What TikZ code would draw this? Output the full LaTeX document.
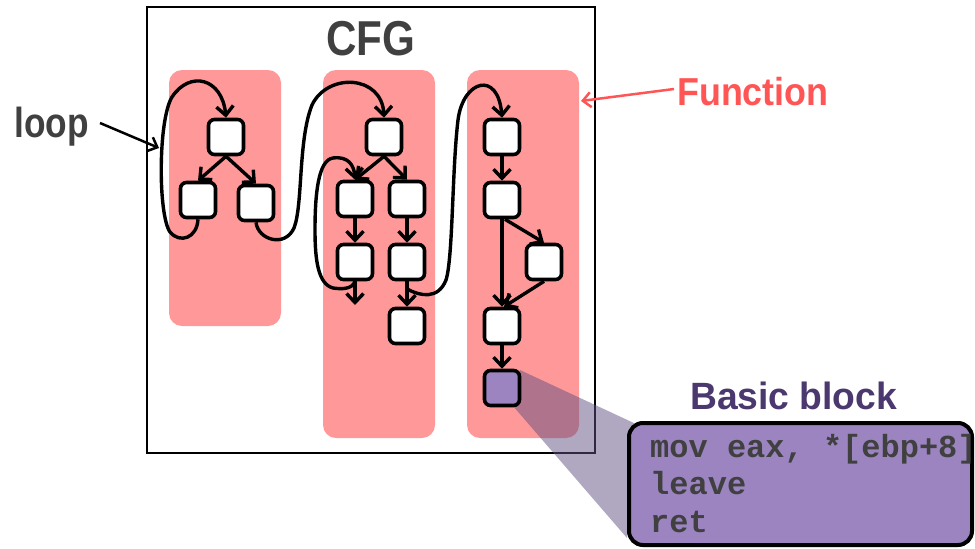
\documentclass[tikz,border=0pt]{standalone}
\usepackage{fontspec}
\setmainfont{Liberation Sans}
\newfontfamily\codefont{Liberation Mono}
\usetikzlibrary{arrows.meta}

\definecolor{panelpink}{RGB}{255,153,153}
\definecolor{bbpurple}{RGB}{155,132,192}
\definecolor{labelgray}{RGB}{64,64,64}
\definecolor{fnred}{RGB}{255,85,85}
\definecolor{bbtitle}{RGB}{75,56,110}
\definecolor{lensshade}{RGB}{97,81,129}

\begin{document}
\begin{tikzpicture}[x=1pt,y=-1pt,
  block/.style={draw=black, line width=3.6pt, rounded corners=6pt, fill=white,
    minimum width=35pt, minimum height=35pt, inner sep=0pt},
  barb/.style={-{Straight Barb[length=9pt,width=17pt]}},
  flow/.style={line width=3.4pt, barb},
  curvy/.style={line width=3.4pt},
  panel/.style={fill=panelpink, rounded corners=13pt},
  callout/.style={line width=2.5pt, -{Straight Barb[length=8pt,width=15pt]}},
  codeline/.style={anchor=base west, inner sep=0pt, text=labelgray,
    font=\codefont\bfseries\fontsize{32}{37}\selectfont},
]
\useasboundingbox (0,0) rectangle (975,549);
\clip (0,0) rectangle (975,549);

% outer CFG frame and title
\draw[line width=2pt] (147,7) rectangle (595,453);
\node[anchor=base, inner sep=0pt, text=labelgray,
  font=\bfseries\fontsize{49}{49}\selectfont] (cfg) at (371,55) {\scalebox{0.86}[1]{CFG}};

% one shaded panel per function
\fill[panel] (169,70) rectangle (281,326);
\fill[panel] (323,70) rectangle (435,438);
\fill[panel] (467,70) rectangle (579,438);

% zoom lens from the highlighted block to its listing
\fill[lensshade, opacity=0.5] (520,370) -- (636,424) -- (627,538) -- (513,406) -- cycle;

% function 1
\node[block] (A1) at (226,137) {};
\node[block] (A2) at (198,200) {};
\node[block] (A3) at (256,203) {};
\draw[flow] (A1.south) -- (A2.north);
\draw[flow] (A1.south) -- (A3.north);
\draw[curvy, barb] (A2.south)
  .. controls (197,238) and (180,244) .. (170,232)
  .. controls (158,215) and (158,120) .. (172,97)
  .. controls (190,70) and (222,78) .. (A1.north);

% function 2
\node[block] (B1) at (384,137) {};
\node[block] (B2) at (355,199) {};
\node[block] (B3) at (407,199) {};
\node[block] (B4) at (355,262) {};
\node[block] (B5) at (407,262) {};
\node[block] (B6) at (407,326) {};
\coordinate (exitB) at (355,305);
\coordinate (callB) at (407,289);
\draw[flow] (B1.south) -- (B2.north);
\draw[flow] (B1.south) -- (B3.north);
\draw[flow] (B2.south) -- (B4.north);
\draw[flow] (B3.south) -- (B5.north);
\draw[flow] (B5.south) -- (B6.north);
\draw[flow] (B4.south) -- (exitB);
\draw[curvy, barb] (B4.south)
  .. controls (352,290) and (340,289) .. (333,288)
  .. controls (318,284) and (315,260) .. (315,230)
  .. controls (315,195) and (318,160) .. (333,158)
  .. controls (348,156) and (354,165) .. (B2.north);

% call edge from function 1 into function 2
\draw[curvy, barb] (A3.south)
  .. controls (258,240) and (285,248) .. (294,228)
  .. controls (303,205) and (298,140) .. (312,105)
  .. controls (328,72) and (382,75) .. (B1.north);

% function 3
\node[block] (C1) at (502,137) {};
\node[block] (C2) at (502,200) {};
\node[block] (C3) at (544,262) {};
\node[block] (C4) at (502,326) {};
\node[block, fill=bbpurple] (C5) at (502,388) {};
\draw[flow] (C1.south) -- (C2.north);
\draw[flow] ([xshift=3pt]C2.south) -- (C3.north);
\draw[flow] (C2.south) -- (C4.north);
\draw[flow] (C3.south) -- ([xshift=2pt]C4.north);
\draw[flow] (C4.south) -- (C5.north);

% call edge from function 2 into function 3
\draw[curvy, barb] (callB)
  .. controls (420,296) and (438,300) .. (446,280)
  .. controls (453,258) and (452,170) .. (458,120)
  .. controls (463,80) and (498,70) .. (C1.north);

% labels with pointers
\node[anchor=base west, inner sep=0pt, text=labelgray,
  font=\bfseries\fontsize{42}{42}\selectfont] (loop) at (14,137) {\scalebox{0.84}[1]{loop}};
\coordinate (loophit) at (159,148);
\draw[callout] (100,123) -- (loophit);

\node[anchor=base west, inner sep=0pt, text=fnred,
  font=\bfseries\fontsize{39}{39}\selectfont] (fn) at (677,105) {\scalebox{0.92}[1]{Function}};
\coordinate (fnhit) at (581,101);
\draw[callout, draw=fnred] (674,89) -- (fnhit);

% basic block listing
\node[anchor=base west, inner sep=0pt, text=bbtitle,
  font=\bfseries\fontsize{38}{38}\selectfont] (bbt) at (690,409) {\scalebox{0.98}[1]{Basic block}};
\node[draw=black, line width=4pt, fill=bbpurple, rounded corners=14pt,
  minimum width=343pt, minimum height=122pt, inner sep=0pt] (bb) at (800.5,484) {};
\node[codeline] (l1) at (650,457) {mov eax, *[ebp+8]};
\node[codeline] (l2) at (650,494) {leave};
\node[codeline] (l3) at (650,532) {ret};
\end{tikzpicture}
\end{document}
